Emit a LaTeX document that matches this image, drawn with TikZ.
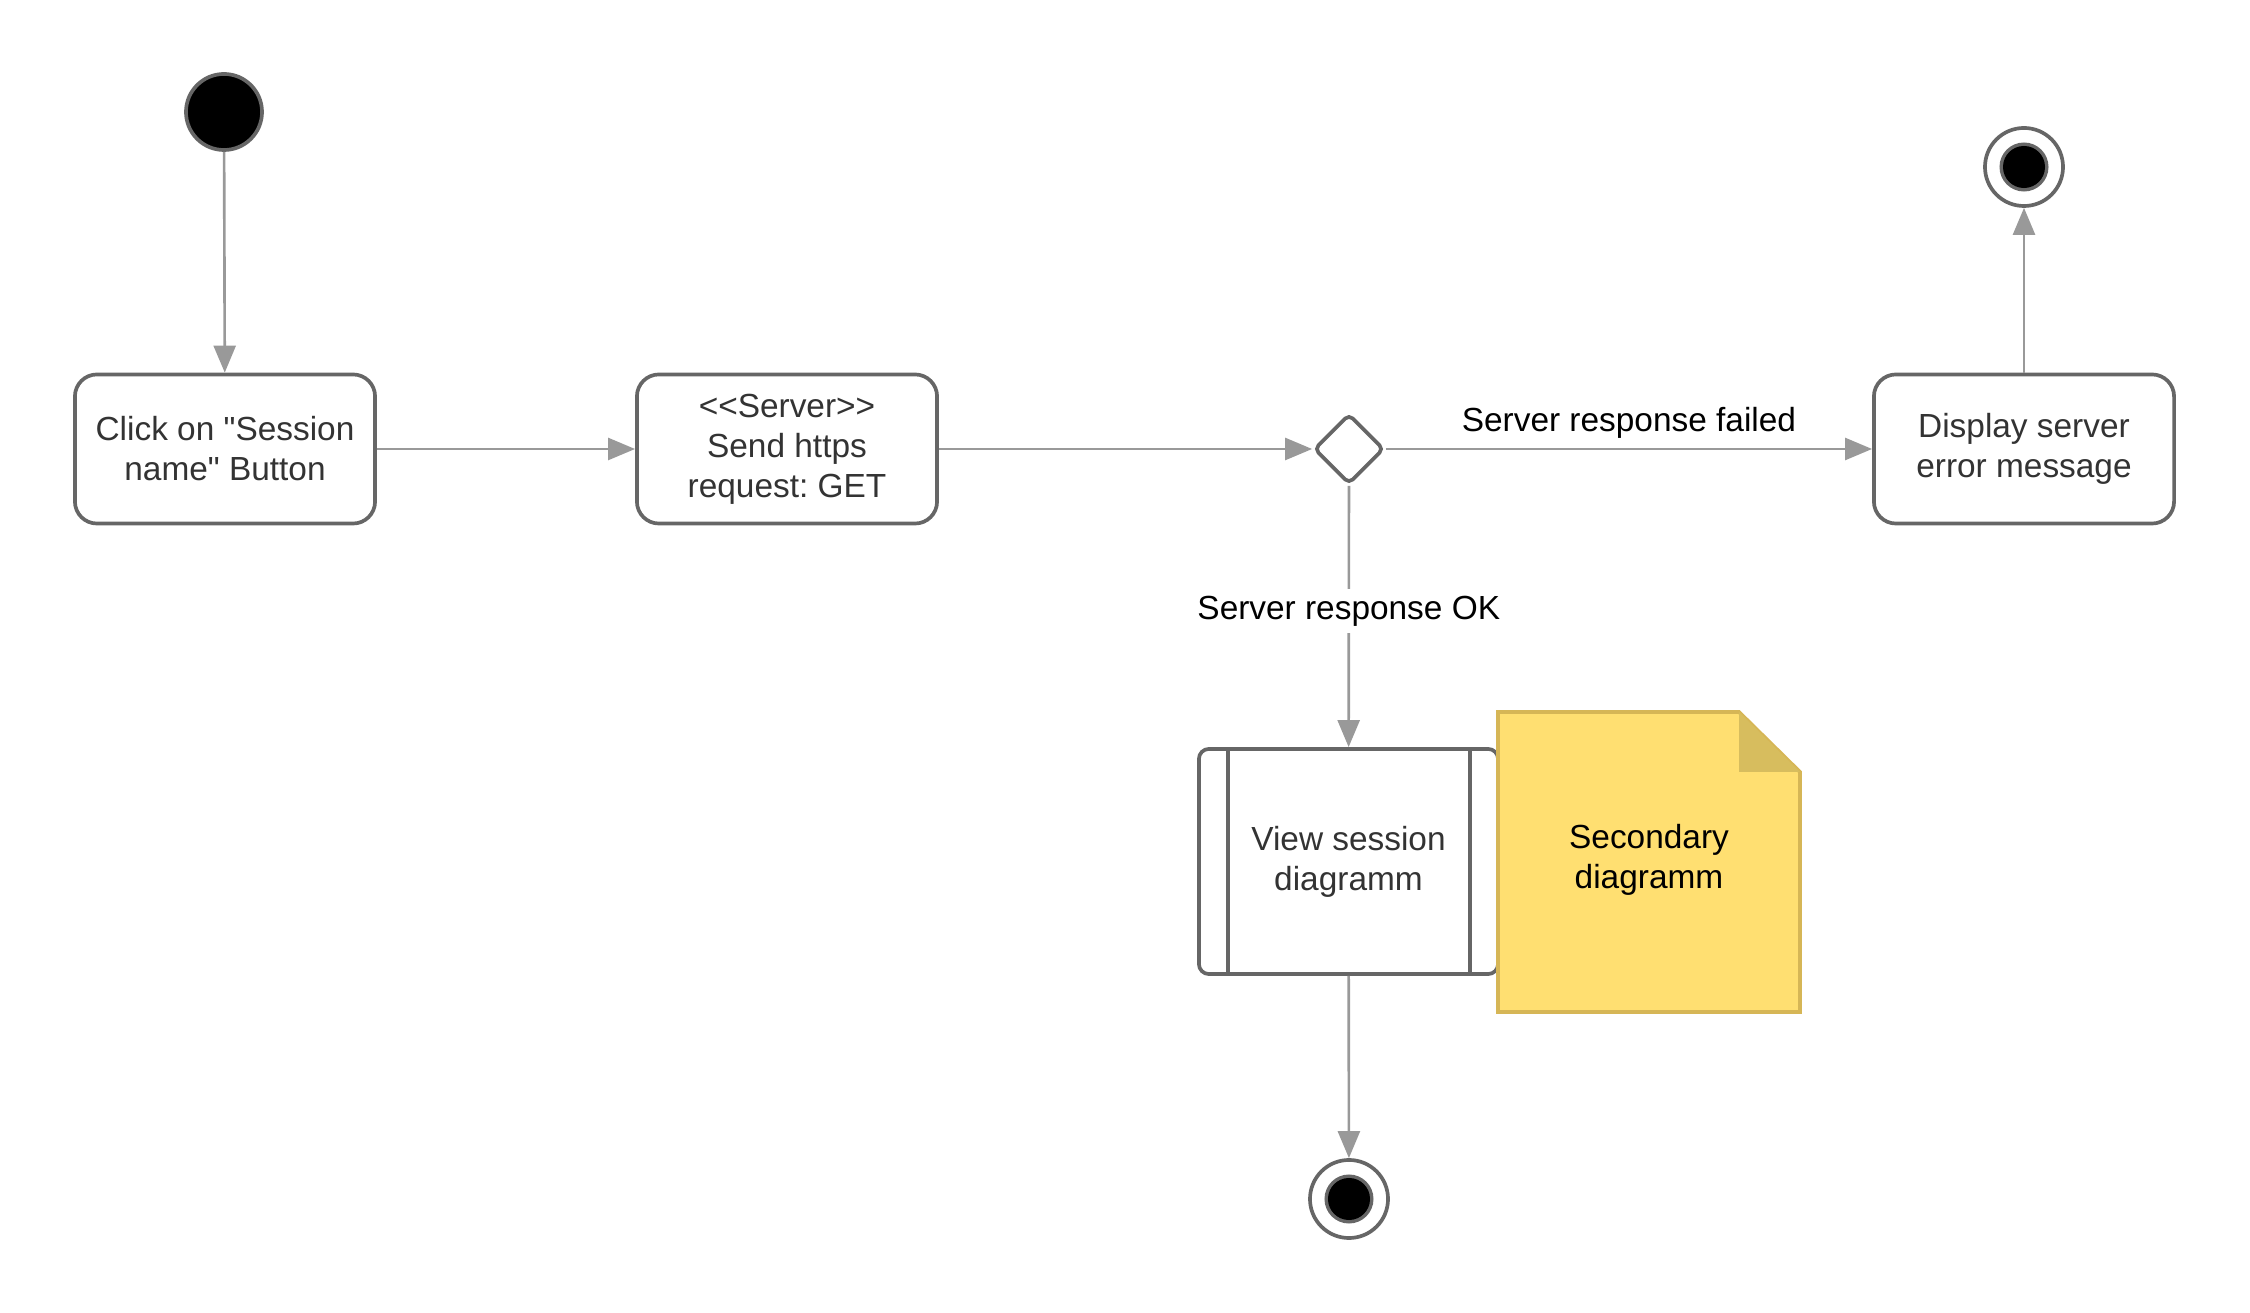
\documentclass[tikz,border=0pt]{standalone}
\usepackage{fontspec}
\setmainfont{Liberation Sans}[Ligatures=TeXOff]
\usetikzlibrary{arrows.meta,shapes.geometric}
\frenchspacing

\definecolor{edgegray}{HTML}{999999}
\definecolor{linegray}{HTML}{666666}
\definecolor{textgray}{HTML}{333333}
\definecolor{notefill}{HTML}{FFDF71}
\definecolor{noteline}{HTML}{D6B656}
\definecolor{notefold}{HTML}{D7BD5E}

\def \borderWidth {1.05pt}

\tikzset{
  labelfont/.style={font=\fontsize{9.5}{11.4}\selectfont},
  action/.style={draw=linegray, line width=\borderWidth, fill=white, rounded corners=0.22cm,
    minimum width=3cm, minimum height=1.49cm, align=center, text=textgray, labelfont, inner sep=0pt},
  subaction/.style={draw=linegray, line width=\borderWidth, fill=white, rounded corners=0.1cm,
    minimum width=2.99cm, minimum height=2.25cm, align=center, text=textgray, labelfont, inner sep=0pt},
  decision/.style={diamond, draw=linegray, line width=\borderWidth, fill=white, rounded corners=1.5pt,
    minimum width=0.7cm, minimum height=0.7cm, inner sep=0pt},
  startdot/.style={circle, draw=linegray, line width=\borderWidth, fill=black, minimum size=0.76cm, inner sep=0pt},
  enddot/.style={circle, draw=linegray, line width=\borderWidth, fill=white, minimum size=0.78cm, inner sep=0pt,
    path picture={
      \fill[linegray] (path picture bounding box.center) circle (0.245cm);
      \fill[black] (path picture bounding box.center) circle (0.21cm);}},
  flow/.style={draw=edgegray, line width=0.75pt, -{Triangle[length=0.27cm,width=0.22cm]}},
  guard/.style={labelfont, text=black, inner sep=2pt}
}

\begin{document}
\begin{tikzpicture}[x=0.01cm, y=-0.01cm]
  \useasboundingbox (0,0) rectangle (2250,1313);

  % states
  \node[startdot] (start) at (224,112) {};
  \node[action] (click) at (225,449) {Click on "Session\\name" Button};
  \node[action] (request) at (787,449) {<{}<Server>{}>\\Send https\\request: GET};
  \node[decision] (decide) at (1349,449) {};
  \node[action] (showerr) at (2024,449) {Display server\\error message};
  \node[enddot] (stopA) at (2024,167) {};

  % sub activity
  \node[subaction] (view) at (1348.5,861.5) {View session\\diagramm};
  \draw[linegray, line width=\borderWidth] ([xshift=0.31cm]view.north west) -- ([xshift=0.31cm]view.south west);
  \draw[linegray, line width=\borderWidth] ([xshift=-0.3cm]view.north east) -- ([xshift=-0.3cm]view.south east);
  \node[enddot] (stopB) at (1349,1199) {};

  % note
  \filldraw[fill=notefill, draw=noteline, line width=\borderWidth]
    (1498,712) -- (1739,712) -- (1800,772) -- (1800,1012) -- (1498,1012) -- cycle;
  \fill[notefold] (1739,712) -- (1800,772) -- (1739,772) -- cycle;
  \node[labelfont, text=black, align=center] (note) at (1649,860) {Secondary\\diagramm};

  % transitions
  \draw[flow] (start) -- (click);
  \draw[flow] (click) -- (request);
  \draw[flow] (request) -- (decide);
  \draw[flow] (decide) -- node[guard, above, yshift=0.5pt] {Server response failed} (showerr);
  \draw[flow] (showerr) -- (stopA);
  \draw[flow] (decide) -- node[guard, fill=white, pos=0.48] {Server response OK} (view);
  \draw[flow] (view) -- (stopB);
\end{tikzpicture}
\end{document}
